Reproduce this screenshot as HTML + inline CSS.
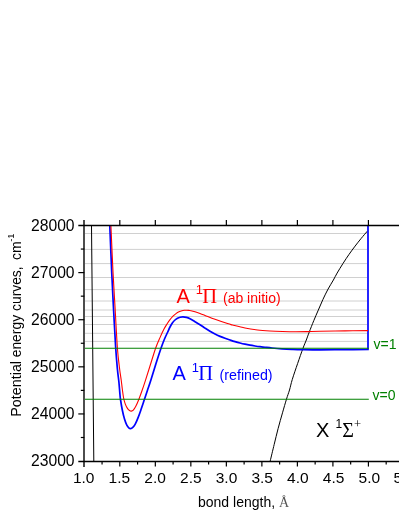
<!DOCTYPE html>
<html><head><meta charset="utf-8"><title>Potential energy curves</title>
<style>
html,body{margin:0;padding:0;background:#fff;}
body{width:399px;height:516px;overflow:hidden;font-family:"Liberation Sans",sans-serif;}
svg{display:block;will-change:transform;}
text{font-family:"Liberation Sans",sans-serif;}
.ser{font-family:"Liberation Serif",serif;}
</style></head><body>
<svg width="399" height="516" viewBox="0 0 399 516">
<rect x="0" y="0" width="399" height="516" fill="#ffffff"/>

<g stroke="#d0d0d0" stroke-width="1" fill="none">
<line x1="85" y1="233.50" x2="367" y2="233.50"/>
<line x1="85" y1="249.40" x2="367" y2="249.40"/>
<line x1="85" y1="263.60" x2="367" y2="263.60"/>
<line x1="85" y1="277.50" x2="367" y2="277.50"/>
<line x1="85" y1="289.60" x2="367" y2="289.60"/>
<line x1="85" y1="301.00" x2="367" y2="301.00"/>
<line x1="85" y1="310.00" x2="367" y2="310.00"/>
<line x1="85" y1="316.50" x2="367" y2="316.50"/>
<line x1="85" y1="324.50" x2="367" y2="324.50"/>
<line x1="85" y1="333.30" x2="367" y2="333.30"/>
<line x1="85" y1="341.40" x2="367" y2="341.40"/>
</g>
<path d="M91.50,225.50 L93.80,461.00" stroke="#000" stroke-width="1" fill="none"/>
<path d="M270.20,461.00 C270.87,458.23 272.88,449.80 274.20,444.40 C275.52,439.00 276.72,433.87 278.10,428.60 C279.48,423.33 281.10,417.72 282.50,412.80 C283.90,407.88 285.33,402.90 286.50,399.10 C287.67,395.30 288.53,393.28 289.50,390.00 C290.47,386.72 290.95,383.80 292.30,379.40 C293.65,375.00 295.83,368.75 297.60,363.60 C299.37,358.45 301.45,352.43 302.90,348.50 C304.35,344.57 305.23,342.77 306.30,340.00 C307.37,337.23 308.05,335.13 309.30,331.90 C310.55,328.67 312.30,324.23 313.80,320.60 C315.30,316.97 316.78,313.62 318.30,310.10 C319.82,306.58 321.27,303.02 322.90,299.50 C324.53,295.98 326.35,292.25 328.10,289.00 C329.85,285.75 331.90,282.65 333.40,280.00 C334.90,277.35 335.48,275.88 337.10,273.10 C338.72,270.32 341.10,266.43 343.10,263.30 C345.10,260.17 347.10,257.17 349.10,254.30 C351.10,251.43 353.10,248.73 355.10,246.10 C357.10,243.47 359.15,240.88 361.10,238.50 C363.05,236.12 365.72,233.07 366.80,231.80 C367.88,230.53 367.47,231.05 367.60,230.90" stroke="#000" stroke-width="1" fill="none"/>
<path d="M109.80,225.50 C110.12,233.25 111.07,257.92 111.70,272.00 C112.33,286.08 112.93,297.33 113.60,310.00 C114.27,322.67 115.05,338.00 115.70,348.00 C116.35,358.00 116.97,364.33 117.50,370.00 C118.03,375.67 118.48,377.83 118.90,382.00 C119.32,386.17 119.73,392.08 120.00,395.00 C120.27,397.92 120.12,397.00 120.50,399.50 C120.88,402.00 121.63,406.73 122.30,410.00 C122.97,413.27 123.75,416.58 124.50,419.10 C125.25,421.62 126.08,423.65 126.80,425.10 C127.52,426.55 128.17,427.22 128.80,427.80 C129.43,428.38 129.93,428.67 130.60,428.60 C131.27,428.53 132.05,428.10 132.80,427.40 C133.55,426.70 134.22,426.03 135.10,424.40 C135.98,422.77 137.10,420.12 138.10,417.60 C139.10,415.08 140.05,412.32 141.10,409.30 C142.15,406.28 143.35,402.63 144.40,399.50 C145.45,396.37 146.32,393.75 147.40,390.50 C148.48,387.25 149.47,384.50 150.90,380.00 C152.33,375.50 154.30,368.83 156.00,363.50 C157.70,358.17 159.68,352.08 161.10,348.00 C162.52,343.92 163.43,341.58 164.50,339.00 C165.57,336.42 166.58,334.50 167.50,332.50 C168.42,330.50 169.17,328.62 170.00,327.00 C170.83,325.38 171.67,323.97 172.50,322.80 C173.33,321.63 174.17,320.77 175.00,320.00 C175.83,319.23 176.67,318.67 177.50,318.20 C178.33,317.73 179.08,317.43 180.00,317.20 C180.92,316.97 181.92,316.77 183.00,316.80 C184.08,316.83 185.33,317.07 186.50,317.40 C187.67,317.73 188.58,318.08 190.00,318.80 C191.42,319.52 193.33,320.72 195.00,321.70 C196.67,322.68 198.33,323.63 200.00,324.70 C201.67,325.77 203.33,327.00 205.00,328.10 C206.67,329.20 208.33,330.30 210.00,331.30 C211.67,332.30 213.33,333.25 215.00,334.10 C216.67,334.95 218.33,335.70 220.00,336.40 C221.67,337.10 223.33,337.70 225.00,338.30 C226.67,338.90 228.33,339.45 230.00,340.00 C231.67,340.55 233.33,341.10 235.00,341.60 C236.67,342.10 238.33,342.57 240.00,343.00 C241.67,343.43 243.33,343.83 245.00,344.20 C246.67,344.57 248.33,344.90 250.00,345.20 C251.67,345.50 253.33,345.75 255.00,346.00 C256.67,346.25 258.33,346.49 260.00,346.70 C261.67,346.91 263.00,347.03 265.00,347.25 C267.00,347.47 269.17,347.74 272.00,348.00 C274.83,348.26 278.67,348.58 282.00,348.80 C285.33,349.02 288.67,349.17 292.00,349.30 C295.33,349.43 297.33,349.52 302.00,349.60 C306.67,349.68 312.83,349.80 320.00,349.80 C327.17,349.80 337.00,349.67 345.00,349.60 C353.00,349.53 364.17,349.43 368.00,349.40 L368,225.5" stroke="#0000ff" stroke-width="1.7" fill="none" stroke-linejoin="miter"/>
<path d="M110.90,225.50 C111.25,233.25 112.28,257.92 113.00,272.00 C113.72,286.08 114.47,297.33 115.20,310.00 C115.93,322.67 116.68,338.33 117.40,348.00 C118.12,357.67 118.87,362.67 119.50,368.00 C120.13,373.33 120.73,376.50 121.20,380.00 C121.67,383.50 121.90,386.00 122.30,389.00 C122.70,392.00 123.10,395.48 123.60,398.00 C124.10,400.52 124.63,402.33 125.30,404.10 C125.97,405.87 126.90,407.53 127.60,408.60 C128.30,409.67 128.88,410.08 129.50,410.50 C130.12,410.92 130.67,411.17 131.30,411.10 C131.93,411.03 132.55,410.90 133.30,410.10 C134.05,409.30 134.88,408.07 135.80,406.30 C136.72,404.53 137.80,402.00 138.80,399.50 C139.80,397.00 140.72,394.42 141.80,391.30 C142.88,388.18 143.93,385.02 145.30,380.80 C146.67,376.58 148.27,371.47 150.00,366.00 C151.73,360.53 154.03,352.73 155.70,348.00 C157.37,343.27 158.62,340.75 160.00,337.60 C161.38,334.45 162.83,331.37 164.00,329.10 C165.17,326.83 166.00,325.57 167.00,324.00 C168.00,322.43 169.00,321.00 170.00,319.70 C171.00,318.40 172.00,317.22 173.00,316.20 C174.00,315.18 175.00,314.33 176.00,313.60 C177.00,312.87 178.00,312.28 179.00,311.80 C180.00,311.32 181.08,310.95 182.00,310.70 C182.92,310.45 183.73,310.38 184.50,310.30 C185.27,310.22 185.85,310.18 186.60,310.20 C187.35,310.22 188.27,310.32 189.00,310.40 C189.73,310.48 190.00,310.47 191.00,310.70 C192.00,310.93 193.50,311.33 195.00,311.80 C196.50,312.27 198.33,312.90 200.00,313.50 C201.67,314.10 202.50,314.43 205.00,315.40 C207.50,316.37 211.25,317.93 215.00,319.30 C218.75,320.67 224.58,322.65 227.50,323.60 C230.42,324.55 229.58,324.27 232.50,325.00 C235.42,325.73 240.83,327.17 245.00,328.00 C249.17,328.83 253.33,329.50 257.50,330.00 C261.67,330.50 265.83,330.75 270.00,331.00 C274.17,331.25 278.33,331.38 282.50,331.50 C286.67,331.62 290.83,331.73 295.00,331.75 C299.17,331.77 303.33,331.68 307.50,331.60 C311.67,331.53 313.75,331.42 320.00,331.30 C326.25,331.18 337.00,331.02 345.00,330.90 C353.00,330.78 364.17,330.65 368.00,330.60" stroke="#ff0000" stroke-width="1.1" fill="none"/>
<g stroke="#008000" stroke-width="1.1" fill="none">
<line x1="85" y1="348.2" x2="368.8" y2="348.2"/>
<line x1="85" y1="399.3" x2="368.8" y2="399.3"/>
</g>
<g stroke="#000" stroke-width="1.4" fill="none">
<line x1="84.00" y1="220.00" x2="84.00" y2="466.95"/>
<line x1="78.30" y1="225.50" x2="399" y2="225.50"/>
<line x1="78.30" y1="461.45" x2="399" y2="461.45"/>
</g>
<g stroke="#000" stroke-width="1.2" fill="none">
<line x1="119.81" y1="225.50" x2="119.81" y2="220.00"/>
<line x1="119.81" y1="461.05" x2="119.81" y2="466.55"/>
<line x1="155.33" y1="225.50" x2="155.33" y2="220.00"/>
<line x1="155.33" y1="461.05" x2="155.33" y2="466.55"/>
<line x1="190.84" y1="225.50" x2="190.84" y2="220.00"/>
<line x1="190.84" y1="461.05" x2="190.84" y2="466.55"/>
<line x1="226.36" y1="225.50" x2="226.36" y2="220.00"/>
<line x1="226.36" y1="461.05" x2="226.36" y2="466.55"/>
<line x1="261.88" y1="225.50" x2="261.88" y2="220.00"/>
<line x1="261.88" y1="461.05" x2="261.88" y2="466.55"/>
<line x1="297.39" y1="225.50" x2="297.39" y2="220.00"/>
<line x1="297.39" y1="461.05" x2="297.39" y2="466.55"/>
<line x1="332.91" y1="225.50" x2="332.91" y2="220.00"/>
<line x1="332.91" y1="461.05" x2="332.91" y2="466.55"/>
<line x1="368.42" y1="225.50" x2="368.42" y2="220.00"/>
<line x1="368.42" y1="461.05" x2="368.42" y2="466.55"/>
<line x1="403.94" y1="225.50" x2="403.94" y2="220.00"/>
<line x1="403.94" y1="461.05" x2="403.94" y2="466.55"/>
<line x1="102.06" y1="461.05" x2="102.06" y2="464.55"/>
<line x1="137.57" y1="461.05" x2="137.57" y2="464.55"/>
<line x1="173.09" y1="461.05" x2="173.09" y2="464.55"/>
<line x1="208.60" y1="461.05" x2="208.60" y2="464.55"/>
<line x1="244.12" y1="461.05" x2="244.12" y2="464.55"/>
<line x1="279.63" y1="461.05" x2="279.63" y2="464.55"/>
<line x1="315.15" y1="461.05" x2="315.15" y2="464.55"/>
<line x1="350.66" y1="461.05" x2="350.66" y2="464.55"/>
<line x1="386.18" y1="461.05" x2="386.18" y2="464.55"/>
<line x1="84.30" y1="413.94" x2="78.30" y2="413.94"/>
<line x1="84.30" y1="366.83" x2="78.30" y2="366.83"/>
<line x1="84.30" y1="319.72" x2="78.30" y2="319.72"/>
<line x1="84.30" y1="272.61" x2="78.30" y2="272.61"/>
<line x1="84.30" y1="437.50" x2="80.80" y2="437.50"/>
<line x1="84.30" y1="390.38" x2="80.80" y2="390.38"/>
<line x1="84.30" y1="343.27" x2="80.80" y2="343.27"/>
<line x1="84.30" y1="296.17" x2="80.80" y2="296.17"/>
<line x1="84.30" y1="249.06" x2="80.80" y2="249.06"/>
</g>
<g font-size="15.7" fill="#000">
<text x="74.6" y="466.35" text-anchor="end">23000</text>
<text x="74.6" y="419.24" text-anchor="end">24000</text>
<text x="74.6" y="372.13" text-anchor="end">25000</text>
<text x="74.6" y="325.02" text-anchor="end">26000</text>
<text x="74.6" y="277.91" text-anchor="end">27000</text>
<text x="74.6" y="230.80" text-anchor="end">28000</text>
<text x="83.70" y="482.8" text-anchor="middle" font-size="15.5">1.0</text>
<text x="119.40" y="482.8" text-anchor="middle" font-size="15.5">1.5</text>
<text x="155.10" y="482.8" text-anchor="middle" font-size="15.5">2.0</text>
<text x="190.80" y="482.8" text-anchor="middle" font-size="15.5">2.5</text>
<text x="226.50" y="482.8" text-anchor="middle" font-size="15.5">3.0</text>
<text x="262.20" y="482.8" text-anchor="middle" font-size="15.5">3.5</text>
<text x="297.90" y="482.8" text-anchor="middle" font-size="15.5">4.0</text>
<text x="333.60" y="482.8" text-anchor="middle" font-size="15.5">4.5</text>
<text x="369.30" y="482.8" text-anchor="middle" font-size="15.5">5.0</text>
<text x="404.20" y="482.8" text-anchor="middle" font-size="15.5">5.5</text>
</g>
<text x="198" y="507" font-size="14" fill="#000">bond length, <tspan class="ser" fill="#555">Å</tspan></text>
<text transform="translate(21.0,416.80) rotate(-90) scale(1.026,1)" font-size="14" fill="#000">Potential</text>
<text transform="translate(21.0,357.30) rotate(-90) scale(0.990,1)" font-size="14" fill="#000">energy</text>
<text transform="translate(21.0,311.00) rotate(-90) scale(0.990,1)" font-size="14" fill="#000">curves,</text>
<text transform="translate(21.0,260.0) rotate(-90)" font-size="14" fill="#000">cm<tspan font-size="9.3" dy="-6.8" dx="-0.4">-1</tspan></text>
<text x="176.5" y="302.7" font-size="20" fill="#ff0000">A</text>
<text x="195.8" y="293.7" font-size="13" fill="#ff0000">1</text>
<text x="202.3" y="302.7" font-size="20.5" fill="#ff0000" class="ser">Π</text>
<text x="223" y="302.7" font-size="14" fill="#ff0000">(ab initio)</text>
<text x="172.5" y="380.4" font-size="20" fill="#0000ff">A</text>
<text x="191.8" y="371.5" font-size="13" fill="#0000ff">1</text>
<text x="198.3" y="380.4" font-size="20.5" fill="#0000ff" class="ser">Π</text>
<text x="219.5" y="380.4" font-size="14.25" fill="#0000ff">(refined)</text>
<text x="316" y="436.7" font-size="20" fill="#000">X</text>
<text x="335.5" y="427.8" font-size="12" fill="#000">1</text>
<text x="342.3" y="436.7" font-size="20" fill="#000" class="ser">Σ</text>
<text x="354.1" y="427.9" font-size="12.6" fill="#000" class="ser">+</text>
<text x="373.6" y="348.8" font-size="14" fill="#008000">v=1</text>
<text x="372.5" y="400" font-size="14" fill="#008000">v=0</text>
</svg></body></html>
